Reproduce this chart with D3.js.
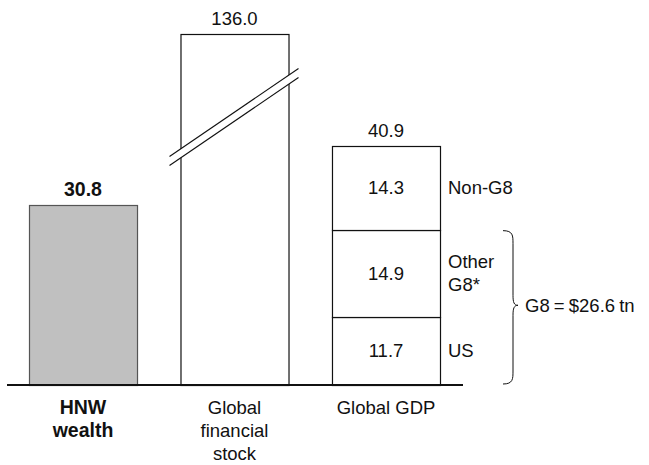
<!DOCTYPE html>
<html>
<head>
<meta charset="utf-8">
<script src="https://cdn.jsdelivr.net/npm/d3@7"></script>
<style>
  html, body { margin: 0; padding: 0; background: #fff; }
  svg text { font-family: "Liberation Sans", Arial, Helvetica, sans-serif; fill: #111; }
</style>
</head>
<body>
<svg id="chart" width="649" height="465"></svg>
<script>
// Category bars ($ trillion)
const categories = ["HNW wealth", "Global financial stock", "Global GDP"];
const categoryLines = [["HNW", "wealth"], ["Global", "financial", "stock"], ["Global GDP"]];
const totals = [30.8, 136.0, 40.9];

// Global GDP split (bottom to top)
const gdpParts = ["US", "Other G8*", "Non-G8"];
const gdpPartLines = [["US"], ["Other", "G8*"], ["Non-G8"]];
const gdpValues = [11.7, 14.9, 14.3];

const g8Label = "G8 = $26.6 tn";

const svg = d3.select("#chart");
const baseY = 385;
const fontSize = 18.5;
const boldSize = 19.5;

// Value axis with a compressed segment above the break (used by the tall bar)
const y = d3.scaleLinear().domain([0, 50, 136]).range([baseY, baseY - 50 * 5.84, 34]);

const x = d3.scaleBand().domain(categories).range([29, 440]).paddingInner(0.287).paddingOuter(0);
const bw = x.bandwidth();

// Bars
const barData = categories.map((c, i) => ({ c, v: totals[i], i }));
svg.selectAll("rect.total")
  .data(barData.filter(d => d.i < 2))
  .join("rect")
  .attr("class", "total")
  .attr("x", d => x(d.c) + 0.5)
  .attr("y", d => Math.round(y(d.v)) + 0.5)
  .attr("width", bw)
  .attr("height", d => baseY - Math.round(y(d.v)))
  .attr("fill", d => d.i === 0 ? "#c0c0c0" : "#fff")
  .attr("stroke", d => d.i === 0 ? "#555" : "#111")
  .attr("stroke-width", 1.2);

// Stacked GDP bar
const stackedParts = [];
let acc = 0;
gdpValues.forEach((v, i) => {
  stackedParts.push({ name: gdpParts[i], lines: gdpPartLines[i], v, y0: acc, y1: acc + v });
  acc += v;
});
const gx = x(categories[2]);
svg.selectAll("rect.part")
  .data(stackedParts)
  .join("rect")
  .attr("class", "part")
  .attr("x", gx + 0.5)
  .attr("y", d => Math.round(y(d.y1)) + 0.5)
  .attr("width", bw)
  .attr("height", d => Math.round(y(d.y0)) - Math.round(y(d.y1)))
  .attr("fill", "#fff")
  .attr("stroke", "#111")
  .attr("stroke-width", 1.2);

// Segment values inside the stacked bar
svg.selectAll("text.partVal")
  .data(stackedParts)
  .join("text")
  .attr("class", "partVal")
  .attr("x", gx + bw / 2)
  .attr("y", d => (y(d.y0) + y(d.y1)) / 2 + 6.5)
  .attr("text-anchor", "middle")
  .attr("font-size", fontSize)
  .text(d => d.v.toFixed(1));

// Segment names to the right of the stacked bar
stackedParts.forEach(d => {
  const cy = (y(d.y0) + y(d.y1)) / 2 + 6.5;
  const n = d.lines.length;
  svg.append("text")
    .attr("x", gx + bw + 8)
    .attr("y", cy - (n - 1) * 11.5)
    .attr("font-size", fontSize)
    .selectAll("tspan")
    .data(d.lines)
    .join("tspan")
    .attr("x", gx + bw + 8)
    .attr("dy", (l, k) => k === 0 ? 0 : 23)
    .text(l => l);
});

// Total labels above bars
svg.selectAll("text.total")
  .data(barData)
  .join("text")
  .attr("class", "total")
  .attr("x", d => x(d.c) + bw / 2)
  .attr("y", d => y(d.v) - 9.5)
  .attr("text-anchor", "middle")
  .attr("font-size", d => d.i === 0 ? boldSize : fontSize)
  .attr("font-weight", d => d.i === 0 ? "bold" : "normal")
  .text(d => d.v.toFixed(1));

// Break marker across the tall bar
const bx0 = x(categories[1]) - 11, bx1 = x(categories[1]) + bw + 10;
const by0 = 161, by1 = 73, gap = 9;
svg.append("path")
  .attr("d", `M${bx0},${by0 - gap / 2}L${bx1},${by1 - gap / 2}L${bx1},${by1 + gap / 2}L${bx0},${by0 + gap / 2}Z`)
  .attr("fill", "#fff");
[-gap / 2, gap / 2].forEach(o => {
  svg.append("line")
    .attr("x1", bx0).attr("y1", by0 + o)
    .attr("x2", bx1).attr("y2", by1 + o)
    .attr("stroke", "#111").attr("stroke-width", 1.1);
});

// Baseline
svg.append("line")
  .attr("x1", 7).attr("x2", 463)
  .attr("y1", baseY).attr("y2", baseY)
  .attr("stroke", "#111").attr("stroke-width", 2);

// Category labels
categories.forEach((c, i) => {
  svg.append("text")
    .attr("x", x(c) + bw / 2)
    .attr("y", 414)
    .attr("text-anchor", "middle")
    .attr("font-size", i === 0 ? boldSize : fontSize)
    .attr("font-weight", i === 0 ? "bold" : "normal")
    .selectAll("tspan")
    .data(categoryLines[i])
    .join("tspan")
    .attr("x", x(c) + bw / 2)
    .attr("dy", (l, k) => k === 0 ? 0 : 23)
    .text(l => l);
});

// Brace spanning the G8 segments (US + Other G8)
const g8Top = y(gdpValues[0] + gdpValues[1]);
const g8Bot = y(0);
const bxL = 503, bxM = 513, bxT = 518;
const mid = (g8Top + g8Bot) / 2 - 2;
svg.append("path")
  .attr("d",
    `M${bxL},${g8Top + 1} C${bxM},${g8Top + 1} ${bxM},${g8Top + 6} ${bxM},${g8Top + 14}` +
    ` L${bxM},${mid - 10} C${bxM},${mid - 3} ${bxM + 1},${mid} ${bxT},${mid}` +
    ` C${bxM + 1},${mid} ${bxM},${mid + 3} ${bxM},${mid + 10}` +
    ` L${bxM},${g8Bot - 14} C${bxM},${g8Bot - 6} ${bxM},${g8Bot - 1} ${bxL},${g8Bot - 1}`)
  .attr("fill", "none")
  .attr("stroke", "#111")
  .attr("stroke-width", 1);

svg.append("text")
  .attr("x", 525)
  .attr("y", mid + 6.5)
  .attr("font-size", fontSize)
  .attr("word-spacing", -1)
  .text(g8Label);
</script>
</body>
</html>
